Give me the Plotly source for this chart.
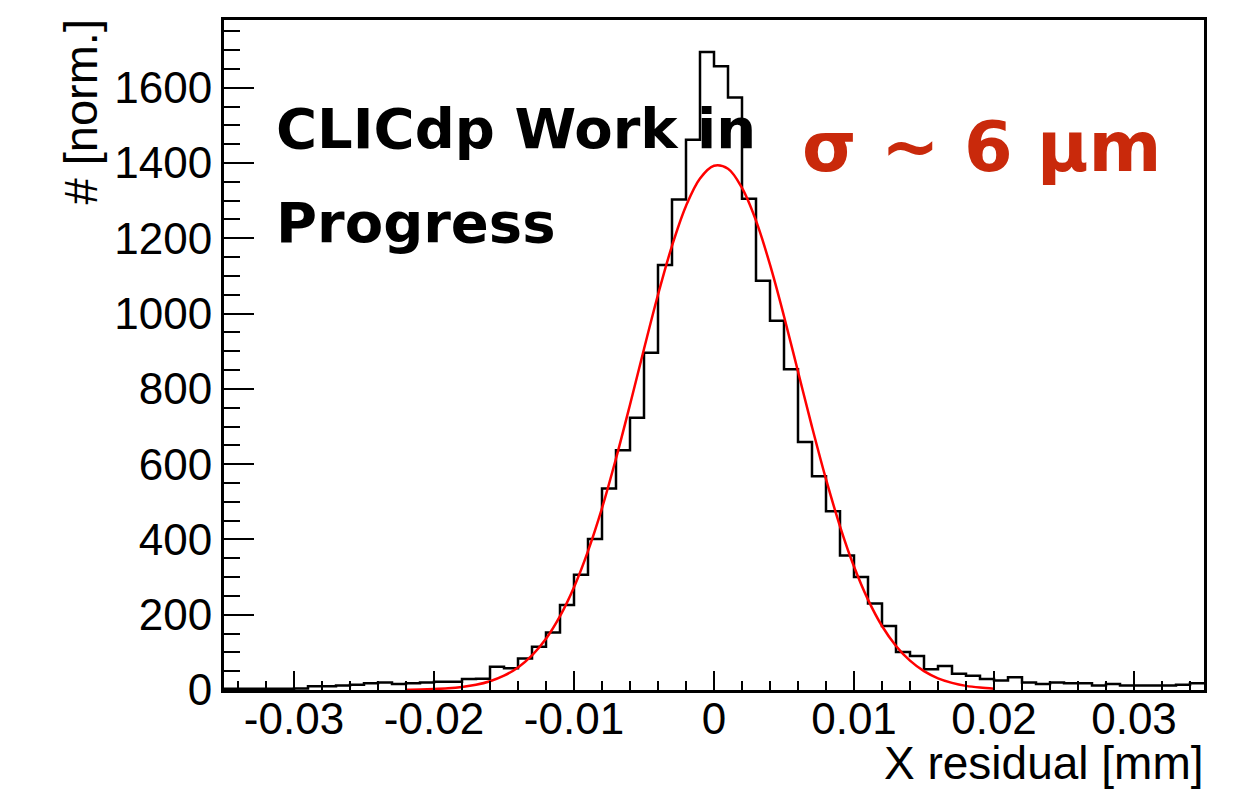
import numpy as np
import plotly.graph_objects as go

# Histogram: 70 bins of 0.001 mm from -0.035 to 0.035
bin_low = -0.035
bin_high = 0.035
counts = [
    3, 3, 3, 3, 3, 4,            # -0.035 .. -0.030
    10, 10, 12, 14, 18, 20, 16,  # -0.029 .. -0.023
    18, 20, 22, 22, 29, 30,      # -0.022 .. -0.017
    62, 58, 84, 115, 153, 226,   # -0.016 .. -0.011
    306, 401, 535, 637, 723, 896, 1129, 1303, 1462, 1695,   # -0.010 .. -0.001
    1657, 1574, 1305, 1087, 981, 852, 659, 568, 475, 357,   # 0.000 .. 0.009
    300, 230, 170, 101, 90, 55, 64,                         # 0.010 .. 0.016
    43, 38, 29, 25, 34, 20, 16, 20, 18, 18, 12, 16, 12, 12, 12, 12, 14, 18,  # 0.017 .. 0.034
]

# Gaussian fit curve
fit_x = [-0.022, -0.021, -0.020, -0.019, -0.018, -0.017, -0.016, -0.015, -0.014, -0.013, -0.012,
         -0.011, -0.010, -0.009, -0.008, -0.007, -0.006, -0.005, -0.004, -0.003, -0.002,
         -0.001, 0.000, 0.001, 0.002, 0.003, 0.004, 0.005, 0.006, 0.007, 0.008,
         0.009, 0.010, 0.011, 0.012, 0.013, 0.014, 0.015, 0.016, 0.017, 0.018,
         0.019, 0.020]
fit_y = [0.7, 1.3, 2.5, 4.5, 8.1, 13.9, 23.4, 38, 60, 92, 136,
         196, 273, 369, 483, 615, 758, 906, 1050, 1180, 1286,
         1359, 1393, 1385, 1334, 1247, 1130, 993, 846, 699, 560,
         435, 328, 240, 170, 117, 78, 50, 31, 19, 11,
         6.4, 3.6]

x_tickvals = [-0.03, -0.02, -0.01, 0, 0.01, 0.02, 0.03]
x_ticktext = ["-0.03", "-0.02", "-0.01", "0", "0.01", "0.02", "0.03"]
y_tickvals = [0, 200, 400, 600, 800, 1000, 1200, 1400, 1600]
y_ticktext = [str(v) for v in y_tickvals]

edges = np.linspace(bin_low, bin_high, len(counts) + 1)
hist_x = list(edges)
hist_y = list(counts) + [counts[-1]]

W, H = 1246, 790
L, R, T, B = 224, 42, 20, 100
pw, ph = W - L - R, H - T - B

def px(xp):
    return (xp - L) / pw

def py(yp):
    return (H - B - yp) / ph

fig = go.Figure()
fig.add_trace(go.Scatter(x=hist_x, y=hist_y, mode="lines",
                         line=dict(shape="hv", color="black", width=2.5),
                         showlegend=False, hoverinfo="skip"))
fig.add_trace(go.Scatter(x=fit_x, y=fit_y, mode="lines",
                         line=dict(shape="spline", color="#ff0000", width=2.5),
                         showlegend=False, hoverinfo="skip"))

tickfont = dict(family="Liberation Sans, Arial, sans-serif", size=44, color="black")

fig.update_xaxes(range=[bin_low, bin_high], tickvals=x_tickvals, ticktext=x_ticktext,
                 ticks="inside", ticklen=19, tickwidth=2, tickcolor="black",
                 ticklabelstandoff=-12,
                 minor=dict(ticks="inside", ticklen=9, tickwidth=2, dtick=0.002,
                            tick0=0, tickcolor="black"),
                 showline=True, linecolor="black", linewidth=3, mirror=True,
                 showgrid=False, zeroline=False, tickfont=tickfont)
fig.update_yaxes(range=[0, 1780], tickvals=y_tickvals, ticktext=y_ticktext,
                 ticks="inside", ticklen=30, tickwidth=2, tickcolor="black",
                 minor=dict(ticks="inside", ticklen=16, tickwidth=2, dtick=50,
                            tick0=0, tickcolor="black"),
                 showline=True, linecolor="black", linewidth=3, mirror=True,
                 showgrid=False, zeroline=False, tickfont=tickfont)

label_font = dict(family="DejaVu Sans, sans-serif", size=56, color="black", weight="bold")

annotations = [
    dict(text="X residual [mm]", xref="paper", yref="paper", x=px(1206), y=py(763),
         xanchor="right", yanchor="middle", showarrow=False,
         font=dict(family="Liberation Sans, Arial, sans-serif", size=46, color="black")),
    dict(text="# [norm.]", xref="paper", yref="paper", x=px(80), y=py(18),
         xanchor="center", yanchor="top", textangle=-90, showarrow=False,
         font=dict(family="Liberation Sans, Arial, sans-serif", size=47, color="black")),
    dict(text="CLICdp Work in", xref="paper", yref="paper", x=px(274), y=py(129),
         xanchor="left", yanchor="middle", showarrow=False, font=label_font),
    dict(text="Progress", xref="paper", yref="paper", x=px(274), y=py(223),
         xanchor="left", yanchor="middle", showarrow=False, font=label_font),
    dict(text="σ ~ 6 μm", xref="paper", yref="paper", x=px(800), y=py(147),
         xanchor="left", yanchor="middle", showarrow=False,
         font=dict(family="DejaVu Sans, sans-serif", size=70, color="#c9290b", weight="bold")),
]

fig.update_layout(width=W, height=H, margin=dict(l=L, r=R, t=T, b=B),
                  paper_bgcolor="white", plot_bgcolor="white",
                  annotations=annotations, showlegend=False)

fig.write_html("out.html")
